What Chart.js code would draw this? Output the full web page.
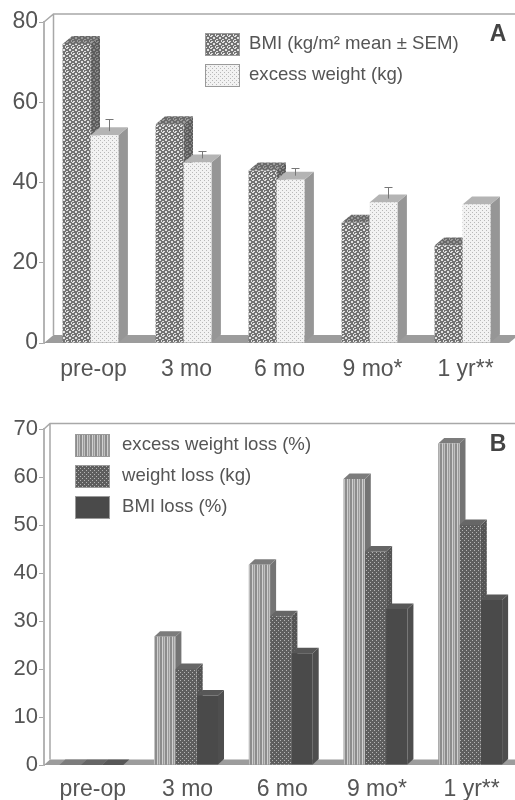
<!DOCTYPE html>
<html>
<head>
<meta charset="utf-8">
<script src="https://cdn.jsdelivr.net/npm/chart.js@4/dist/chart.umd.min.js"></script>
<style>
  html, body { margin: 0; padding: 0; background: #fff; }
  #wrap { position: relative; width: 515px; height: 800px; overflow: hidden; }
  canvas { position: absolute; left: 0; filter: blur(0.45px); }
</style>
</head>
<body>
<div id="wrap">
  <div style="position:absolute;left:0;top:0;width:515px;height:400px"><canvas id="chartA"></canvas></div>
  <!-- panel B runs slightly past the right edge, as in the original crop -->
  <div style="position:absolute;left:0;top:400px;width:524px;height:400px"><canvas id="chartB"></canvas></div>
</div>
<script>
const categories = ['pre-op', '3 mo', '6 mo', '9 mo*', '1 yr**'];

// panel A
const bmiValues = [74.5, 54.5, 43, 30, 24.3];
const excessWeightValues = [51.8, 45, 40.7, 35, 34.5];
const excessWeightSem = [3, 1.9, 1.9, 2.8, 0];
const ticksA = [0, 20, 40, 60, 80];
const labelBmi = 'BMI (kg/m² mean ± SEM)';
const labelExcessWeight = 'excess weight (kg)';

// panel B
const excessLossValues = [0, 26.7, 41.7, 59.6, 67];
const weightLossValues = [0, 20, 31, 44.5, 50];
const bmiLossValues = [0, 14.5, 23.3, 32.5, 34.4];
const ticksB = [0, 10, 20, 30, 40, 50, 60, 70];
const labelExcessLoss = 'excess weight loss (%)';
const labelWeightLoss = 'weight loss (kg)';
const labelBmiLoss = 'BMI loss (%)';

const TEXT = '#555';
const FONT = '"Liberation Sans", Arial, sans-serif';

// small repeating textures for the bar faces
function speckle(bg, fg, size, spots) {
    const c = document.createElement('canvas');
    c.width = c.height = size;
    const g = c.getContext('2d');
    g.fillStyle = bg;
    g.fillRect(0, 0, size, size);
    g.fillStyle = fg;
    spots.forEach(s => g.fillRect(s[0], s[1], s[2], s[3]));
    return g.createPattern(c, 'repeat');
}
function stripes(colors) {
    const c = document.createElement('canvas');
    c.width = colors.length;
    c.height = 1;
    const g = c.getContext('2d');
    colors.forEach((col, i) => { g.fillStyle = col; g.fillRect(i, 0, 1, 1); });
    return g.createPattern(c, 'repeat');
}

const blob = [[0, 0, 2, 1], [3, 1, 2, 2], [0, 3, 2, 1], [1, 5, 2, 1], [5, 4, 1, 2]];
const fine = [[0, 0, 1, 1], [2, 2, 1, 1]];
const mesh = [[0, 0, 1, 1], [2, 2, 1, 1]];

const fills = {
    bmi: { front: speckle('#727272', '#e2e2e2', 6, blob), side: speckle('#5c5c5c', '#8a8a8a', 6, blob), top: speckle('#6a6a6a', '#9c9c9c', 6, blob) },
    excess: { front: speckle('#f2f2f2', '#b8b8b8', 4, fine), side: '#969696', top: '#b4b4b4' },
    loss: { front: stripes(['#8c8c8c', '#8c8c8c', '#d0d0d0', '#9a9a9a', '#c0c0c0']), side: '#747474', top: '#7c7c7c' },
    weight: { front: speckle('#5e5e5e', '#b4b4b4', 4, mesh), side: speckle('#545454', '#7c7c7c', 4, mesh), top: '#666' },
    bmiLoss: { front: '#4a4a4a', side: '#4e4e4e', top: '#575757' }
};

function poly(ctx, pts, fill) {
    ctx.beginPath();
    pts.forEach((p, i) => i ? ctx.lineTo(p[0], p[1]) : ctx.moveTo(p[0], p[1]));
    ctx.closePath();
    ctx.fillStyle = fill;
    ctx.fill();
}

// fake 3D: back wall and floor, side and top faces of bars, error bars, legend
const box3d = {
    id: 'box3d',
    beforeDatasetsDraw(chart, args, o) {
        const ctx = chart.ctx, a = chart.chartArea;
        ctx.save();
        ctx.strokeStyle = '#a8a8a8';
        ctx.lineWidth = 1.5;
        ctx.beginPath();
        ctx.moveTo(a.left, a.top);
        ctx.lineTo(a.left + o.dx, a.top - o.dy);
        ctx.lineTo(chart.width, a.top - o.dy);
        ctx.moveTo(a.left + o.dx, a.top - o.dy);
        ctx.lineTo(a.left + o.dx, a.bottom - o.dy);
        ctx.stroke();
        poly(ctx, [[a.left, a.bottom], [a.left + o.dx, a.bottom - o.dy], [a.right + o.dx, a.bottom - o.dy], [a.right, a.bottom]], '#9c9c9c');
        // side and top faces first, left to right; the library paints the fronts over them
        chart.data.datasets.forEach((ds, i) => {
            chart.getDatasetMeta(i).data.forEach(b => {
                const r = b.x + b.width / 2, l = b.x - b.width / 2;
                poly(ctx, [[r, b.y], [r + o.dx, b.y - o.dy], [r + o.dx, b.base - o.dy], [r, b.base]], ds.faces.side);
                poly(ctx, [[l, b.y], [l + o.dx, b.y - o.dy], [r + o.dx, b.y - o.dy], [r, b.y]], ds.faces.top);
            });
        });
        ctx.restore();
    },
    afterDatasetsDraw(chart, args, o) {
        const ctx = chart.ctx, y = chart.scales.y;
        ctx.save();
        ctx.strokeStyle = '#777';
        ctx.lineWidth = 1;
        chart.data.datasets.forEach((ds, n) => {
            if (!ds.sem) return;
            chart.getDatasetMeta(n).data.forEach((b, i) => {
                if (!ds.sem[i]) return;
                const cx = Math.round(b.x + o.dx / 2) + 0.5;
                const top = Math.round(y.getPixelForValue(ds.data[i] + ds.sem[i]) - o.dy / 2) + 0.5;
                ctx.beginPath();
                ctx.moveTo(cx, b.y - o.dy / 2);
                ctx.lineTo(cx, top);
                ctx.moveTo(cx - 4, top);
                ctx.lineTo(cx + 4, top);
                ctx.stroke();
            });
        });
        ctx.restore();
    },
    afterDraw(chart, args, o) {
        const ctx = chart.ctx;
        ctx.save();
        ctx.textBaseline = 'middle';
        ctx.textAlign = 'left';
        chart.data.datasets.forEach((ds, i) => {
            const yy = o.legendY + i * o.legendGap;
            ctx.fillStyle = ds.faces.front;
            ctx.fillRect(o.legendX, yy, 35, 23);
            ctx.strokeStyle = '#9a9a9a';
            ctx.lineWidth = 1;
            ctx.strokeRect(o.legendX + 0.5, yy + 0.5, 34, 22);
            ctx.fillStyle = TEXT;
            ctx.font = o.legendSize + 'px ' + FONT;
            ctx.fillText(ds.label, o.legendX + o.textGap, yy + 11);
        });
        ctx.font = 'bold 23px ' + FONT;
        ctx.fillStyle = '#444';
        ctx.textAlign = 'center';
        ctx.fillText(o.letter, o.letterX, o.letterY);
        ctx.restore();
    }
};

function buildChart(id, datasets, tickValues, maxY, catPct, axisH, padTop, padRight, tickPad, labelShift, box) {
    datasets.forEach(d => { d.backgroundColor = d.faces.front; });
    return new Chart(document.getElementById(id), {
        type: 'bar',
        data: { labels: categories, datasets: datasets },
        plugins: [box3d],
        options: {
            responsive: true,
            maintainAspectRatio: false,
            animation: false,
            devicePixelRatio: 1,
            layout: { padding: { top: padTop, right: padRight, left: 0, bottom: 0 } },
            datasets: { bar: { categoryPercentage: catPct, barPercentage: 1 } },
            plugins: {
                legend: { display: false },
                tooltip: { enabled: false },
                box3d: box
            },
            scales: {
                x: {
                    grid: { display: false },
                    border: { display: false },
                    ticks: { color: TEXT, font: { family: FONT, size: 23 }, padding: tickPad, labelOffset: labelShift, maxRotation: 0, autoSkip: false },
                    afterFit: s => { s.height = axisH; }
                },
                y: {
                    min: 0,
                    max: maxY,
                    afterFit: s => { s.width = box.axisLeft; },
                    afterBuildTicks: s => { s.ticks = tickValues.map(v => ({ value: v })); },
                    grid: { drawOnChartArea: false, color: '#a8a8a8', tickLength: 5 },
                    border: { color: '#b4b4b4', width: 2 },
                    ticks: { color: TEXT, font: { family: FONT, size: box.tickSize }, padding: 1 }
                }
            }
        }
    });
}

buildChart('chartA', [
    { label: labelBmi, data: bmiValues, faces: fills.bmi },
    { label: labelExcessWeight, data: excessWeightValues, faces: fills.excess, sem: excessWeightSem }
], ticksA, 80, 0.6, 57, 22, 6, 5, 3, {
    dx: 9.5, dy: 8, axisLeft: 44, tickSize: 23,
    legendX: 205, legendY: 33, legendGap: 31, textGap: 44, legendSize: 18.6,
    letter: 'A', letterX: 498, letterY: 35
});

buildChart('chartB', [
    { label: labelExcessLoss, data: excessLossValues, faces: fills.loss },
    { label: labelWeightLoss, data: weightLossValues, faces: fills.weight },
    { label: labelBmiLoss, data: bmiLossValues, faces: fills.bmiLoss }
], ticksB, 70, 0.675, 35, 29, 6.5, 3, 1.5, {
    dx: 6, dy: 5.5, axisLeft: 44, tickSize: 22,
    legendX: 75, legendY: 34, legendGap: 31, textGap: 47, legendSize: 18.6,
    letter: 'B', letterX: 498, letterY: 45
});
</script>
</body>
</html>
